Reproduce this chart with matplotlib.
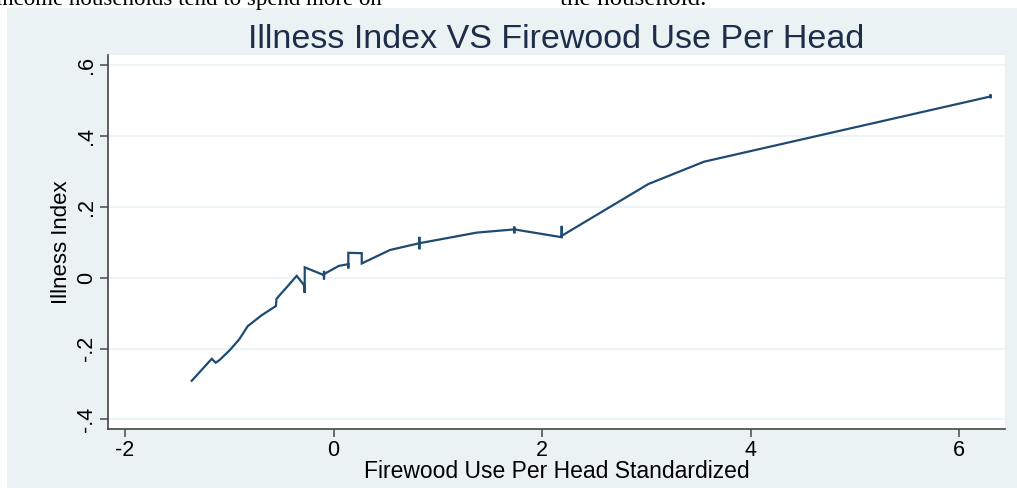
import matplotlib
matplotlib.use("Agg")
import matplotlib.pyplot as plt
from matplotlib.patches import Rectangle

# values (ties in x give the small vertical strokes)
firewood = [-1.360, -1.168, -1.130, -1.095, -0.993, -0.904, -0.823, -0.689,
            -0.552, -0.547, -0.497, -0.472, -0.353, -0.283, -0.276, -0.276,
            -0.091, -0.091, -0.091, -0.091, 0.050,
            0.142, 0.142, 0.142, 0.271, 0.271,
            0.542, 0.823, 0.823, 0.823, 0.823, 1.374,
            1.734, 1.734, 1.734, 1.734,
            2.189, 2.189, 2.189, 2.189,
            3.020, 3.554, 6.302, 6.302, 6.302]
illness = [-0.291, -0.229, -0.240, -0.233, -0.204, -0.174, -0.137, -0.106,
           -0.080, -0.060, -0.043, -0.035, 0.005, -0.021, -0.043, 0.029,
           0.007, -0.005, 0.019, 0.010, 0.033,
           0.038, 0.026, 0.070, 0.069, 0.040,
           0.078, 0.097, 0.080, 0.115, 0.097, 0.127,
           0.136, 0.125, 0.144, 0.136,
           0.114, 0.146, 0.114, 0.118,
           0.264, 0.327, 0.511, 0.506, 0.515]

xticks = [-2, 0, 2, 4, 6]
xticklabels = ["-2", "0", "2", "4", "6"]
yticks = [-0.4, -0.2, 0, 0.2, 0.4, 0.6]
yticklabels = ["-.4", "-.2", "0", ".2", ".4", ".6"]

bg = "#eaf2f3"
navy = "#1f4a72"

plt.rcParams['font.family'] = ['Liberation Sans', 'DejaVu Sans']

fig = plt.figure(figsize=(10.17, 4.88), dpi=100)
fig.patch.set_facecolor("white")

# stata outer region (the screenshot has a thin white margin on top/left)
fig.patches.append(Rectangle((7 / 1017, 0), 1, 1 - 8 / 488, transform=fig.transFigure,
                             facecolor=bg, edgecolor="none", zorder=-5))

# cut-off line of document text at the very top
fig.text(-0.004, 1 - 5 / 488, "income households tend to spend more on",
         family="Liberation Serif", fontsize=16.5, va="baseline", ha="left")
fig.text(560 / 1017, 1 - 5 / 488, "the household.",
         family="Liberation Serif", fontsize=18, va="baseline", ha="left")

ax = fig.add_axes([108 / 1017, 59 / 488, 897 / 1017, 374 / 488])
ax.set_facecolor("white")
ax.plot(firewood, illness, color=navy, lw=1.6, solid_joinstyle="miter")

ax.set_xlim(-2.163, 6.441)
ax.set_ylim(-0.427, 0.628)
ax.set_xticks(xticks)
ax.set_xticklabels(xticklabels)
ax.set_yticks(yticks)
ax.set_yticklabels(yticklabels, rotation=90, va="center")
ax.tick_params(axis="both", labelsize=15.5, length=6, width=1.2, color="#555555",
               direction="out", pad=2)
ax.grid(axis="y", color=bg, lw=1.2)
ax.set_axisbelow(True)

for side in ["top", "right"]:
    ax.spines[side].set_visible(False)
for side in ["left", "bottom"]:
    ax.spines[side].set_color("#444444")
    ax.spines[side].set_linewidth(1.2)

ax.set_xlabel("Firewood Use Per Head Standardized", fontsize=16.5, labelpad=-1)
ax.set_ylabel("Illness Index", fontsize=16, labelpad=3)
ax.set_title("Illness Index VS Firewood Use Per Head", fontsize=24.5,
             color="#1e2d4a", pad=1)

fig.savefig("out.png", dpi=100)
